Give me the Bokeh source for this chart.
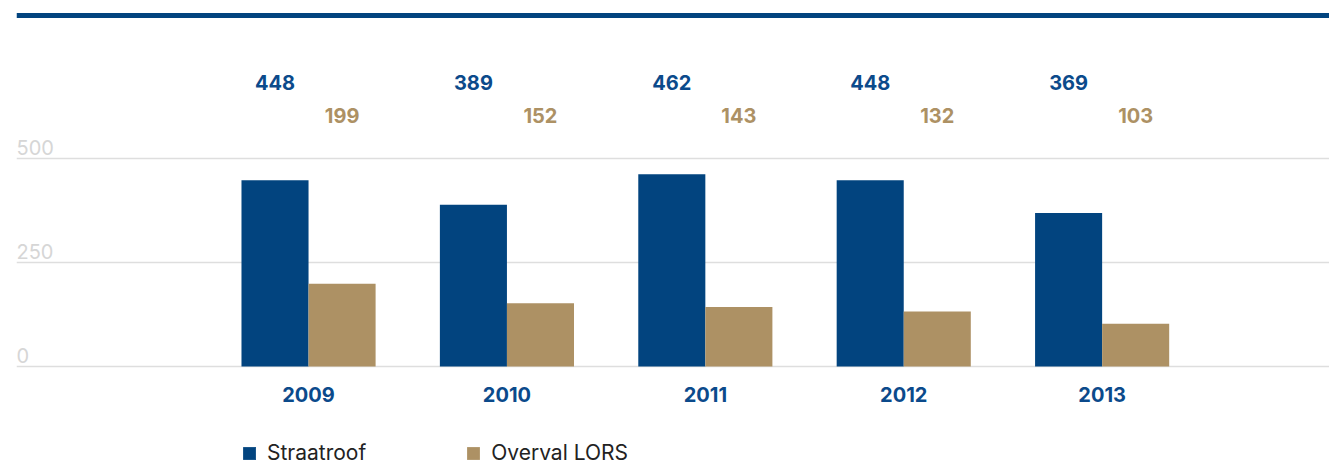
from bokeh.plotting import figure
from bokeh.models import Range1d, Span, Legend, LegendItem, ColumnDataSource
from bokeh.core.properties import value
from bokeh.transform import dodge
from bokeh.embed import file_html
from bokeh.resources import INLINE

years = ["2009", "2010", "2011", "2012", "2013"]
straatroof = [448, 389, 462, 448, 369]
overval_lors = [199, 152, 143, 132, 103]
y_ticks = [0, 250, 500]
series_names = ["Straatroof", "Overval LORS"]

BLUE = "#02447F"
TAN = "#AD9164"
GRID = "#DEDEDE"
FONT = "Inter"

W, H = 1329, 470
p = figure(width=W, height=H, output_backend="svg", toolbar_location=None,
           x_axis_type=None, y_axis_type=None,
           min_border_left=16, min_border_right=0, min_border_top=0, min_border_bottom=0,
           outline_line_color=None, background_fill_color="white", border_fill_color="white")
p.x_range = Range1d(-1.472, 5.146)
p.y_range = Range1d(-250, 879.8)
p.grid.visible = False

for t in y_ticks:
    p.add_layout(Span(location=t, dimension="width", line_color=GRID, line_width=1.5, level="underlay"))
# top rule
p.add_layout(Span(location=843.5, dimension="width", line_color=BLUE, line_width=5))

xs = list(range(len(years)))
bw = 0.338
src = ColumnDataSource(dict(
    x=xs, years=years, s=straatroof, o=overval_lors,
    s_lab=[str(v) for v in straatroof], o_lab=[str(v) for v in overval_lors],
))
r1 = p.vbar(x=dodge("x", -bw / 2), top="s", bottom=0, width=bw, source=src, fill_color=BLUE, line_color=None)
r2 = p.vbar(x=dodge("x", bw / 2), top="o", bottom=0, width=bw, source=src, fill_color=TAN, line_color=None)

# value labels above the plot area
p.text(x=dodge("x", -bw / 2), y=683, text="s_lab", source=src, text_font=value(FONT),
       text_font_size="20px", text_font_style="bold", text_color="#0B4A8B",
       text_align="center", text_baseline="middle")
p.text(x=dodge("x", bw / 2), y=603, text="o_lab", source=src, text_font=value(FONT),
       text_font_size="20px", text_font_style="bold", text_color=TAN,
       text_align="center", text_baseline="middle")

# category labels
p.text(x="x", y=-67, text="years", source=src, text_font=value(FONT),
       text_font_size="20px", text_font_style="bold", text_color="#0B4A8B",
       text_align="center", text_baseline="middle")

# y tick labels (sitting above their gridlines)
ysrc = ColumnDataSource(dict(x=[-1.472] * len(y_ticks), y=[t + 26 for t in y_ticks],
                             t=[str(t) for t in y_ticks]))
p.text(x="x", y="y", text="t", source=ysrc, text_font=value(FONT), text_font_size="20px",
       text_color="#D6D6D6", text_align="left", text_baseline="middle")

legend = Legend(items=[LegendItem(label=series_names[0], renderers=[r1]),
                       LegendItem(label=series_names[1], renderers=[r2])],
                orientation="horizontal", location=(225, 5),
                label_text_font=FONT, label_text_font_size="21px", label_text_color="#222222",
                glyph_width=16, glyph_height=16, label_standoff=10, spacing=99,
                padding=0, margin=0, border_line_color=None, background_fill_alpha=0)
p.add_layout(legend, "center")

open("out.html", "w").write(file_html(p, INLINE))
